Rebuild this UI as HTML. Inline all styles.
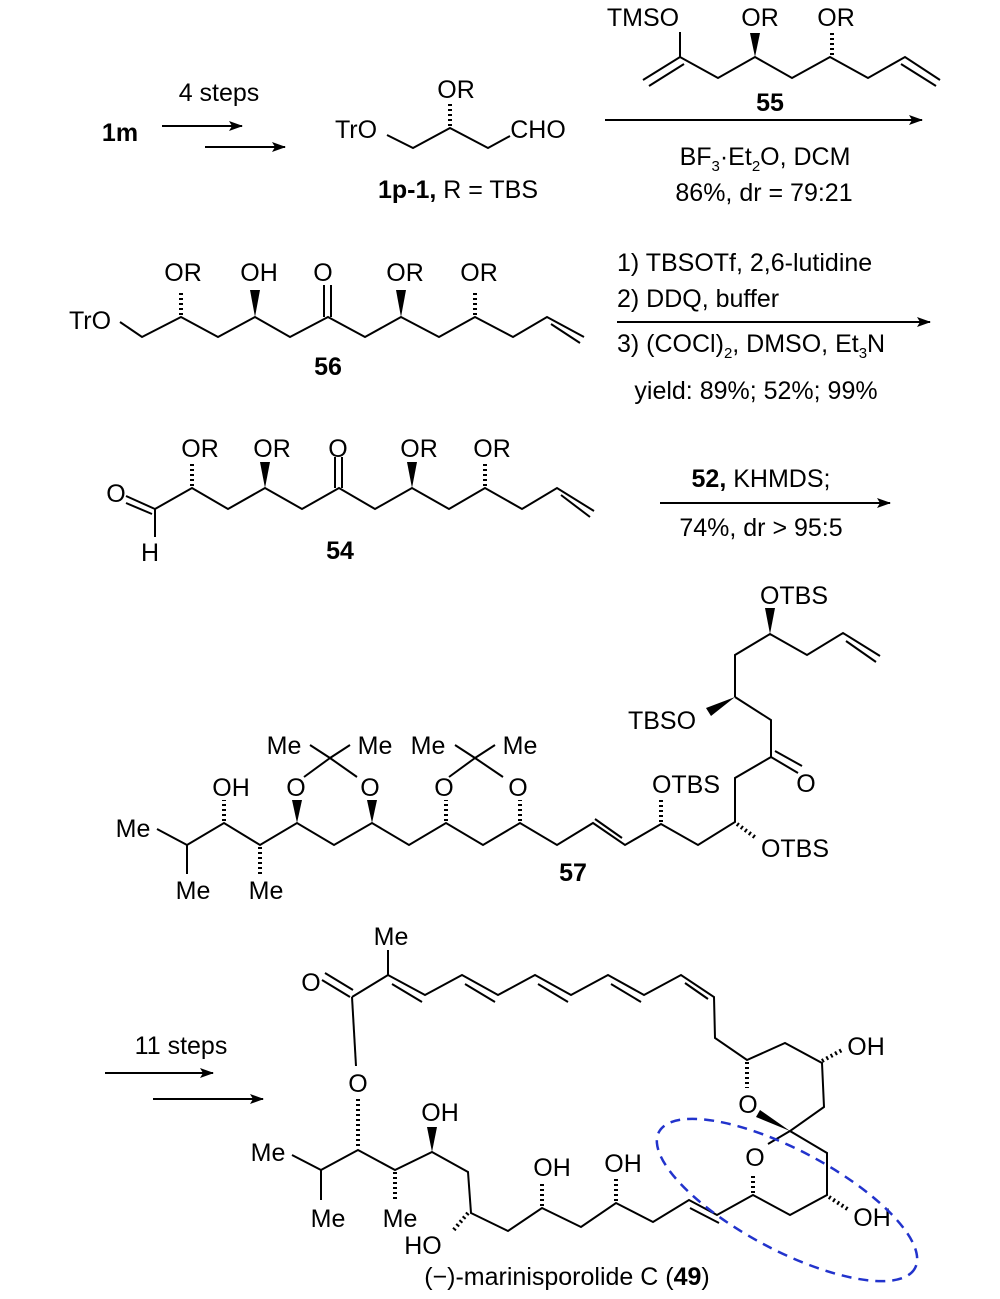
<!DOCTYPE html>
<html><head><meta charset="utf-8"><style>
html,body{margin:0;padding:0;background:#fff;}
svg{display:block;}
text{font-family:"Liberation Sans",Arial,sans-serif;font-size:25px;fill:#000;text-anchor:middle;}
.b{font-weight:bold;}
.l{text-anchor:start;}
line,polyline{stroke:#000;stroke-width:2;fill:none;}
.h{stroke-dasharray:2,3;stroke-width:4;}
</style></head><body>
<svg width="1000" height="1299" viewBox="0 0 1000 1299" xmlns="http://www.w3.org/2000/svg">
<defs><marker id="ar" markerWidth="14" markerHeight="10" refX="13" refY="5" orient="auto" markerUnits="userSpaceOnUse"><path d="M0,0 L14,5 L0,10 L3,5z" fill="#000"/></marker></defs>

<!-- Row 1 -->
<text x="120" y="141" class="b">1m</text>
<text x="219" y="101">4 steps</text>
<line x1="162" y1="126" x2="242" y2="126" marker-end="url(#ar)"/>
<line x1="205" y1="147" x2="285" y2="147" marker-end="url(#ar)"/>

<text x="356" y="138">TrO</text>
<polyline points="387,135 413,148 450,128 488,148 510,136"/>
<line class="h" x1="450" y1="126" x2="450" y2="103"/>
<text x="456" y="98">OR</text>
<text x="538" y="138">CHO</text>
<text x="458" y="198"><tspan class="b">1p-1,</tspan> R = TBS</text>

<line x1="605" y1="120" x2="922" y2="120" marker-end="url(#ar)"/>
<text x="643" y="26">TMSO</text>
<line x1="680" y1="32" x2="680" y2="57"/>
<polyline points="643,80 680,57 718,78 755,57 792,78 830,57 868,78 905,57 940,80"/>
<line x1="649" y1="86" x2="684" y2="64"/>
<line x1="901" y1="64" x2="936" y2="86"/>
<polygon points="755,57 750,33 760,33" fill="#000"/>
<line class="h" x1="832" y1="55" x2="832" y2="32"/>
<text x="760" y="26">OR</text>
<text x="836" y="26">OR</text>
<text x="770" y="111" class="b">55</text>
<text x="765" y="165">BF<tspan font-size="15" dy="6">3</tspan><tspan dy="-6">·Et</tspan><tspan font-size="15" dy="6">2</tspan><tspan dy="-6">O, DCM</tspan></text>
<text x="764" y="201">86%, dr = 79:21</text>

<!-- Row 2 : 56 -->
<text x="90" y="329">TrO</text>
<polyline points="120,322 142,337 181,317 218,337 255,317 290,337 328,317 365,337 401,317 439,337 475,317 513,337 547,317 584,337"/>
<line x1="551" y1="324" x2="580" y2="343"/>
<line class="h" x1="181" y1="315" x2="181" y2="290"/>
<polygon points="255,317 250,290 260,290" fill="#000"/>
<line x1="324" y1="317" x2="324" y2="285"/><line x1="331" y1="317" x2="331" y2="285"/>
<polygon points="401,317 396,290 406,290" fill="#000"/>
<line class="h" x1="475" y1="315" x2="475" y2="290"/>
<text x="183" y="281">OR</text><text x="259" y="281">OH</text><text x="323" y="281">O</text><text x="405" y="281">OR</text><text x="479" y="281">OR</text>
<text x="328" y="375" class="b">56</text>
<line x1="617" y1="322" x2="930" y2="322" marker-end="url(#ar)"/>
<text class="l" x="617" y="271">1) TBSOTf, 2,6-lutidine</text>
<text class="l" x="617" y="307">2)  DDQ, buffer</text>
<text class="l" x="617" y="352">3) (COCl)<tspan font-size="15" dy="6">2</tspan><tspan dy="-6">, DMSO, Et</tspan><tspan font-size="15" dy="6">3</tspan><tspan dy="-6">N</tspan></text>
<text x="756" y="399">yield: 89%; 52%; 99%</text>

<!-- Row 3 : 54 -->
<text x="116" y="502">O</text>
<line x1="126" y1="496" x2="155" y2="509"/><line x1="126" y1="503" x2="152" y2="514"/>
<line x1="155" y1="509" x2="155" y2="537"/>
<text x="150" y="561">H</text>
<polyline points="155,509 192,488 228,509 265,488 302,509 339,488 375,509 412,488 449,509 485,488 522,509 557,488 594,511"/>
<line x1="561" y1="495" x2="590" y2="517"/>
<line class="h" x1="192" y1="486" x2="192" y2="462"/>
<polygon points="265,488 260,462 270,462" fill="#000"/>
<line x1="335" y1="488" x2="335" y2="457"/><line x1="342" y1="488" x2="342" y2="457"/>
<polygon points="412,488 407,462 417,462" fill="#000"/>
<line class="h" x1="485" y1="486" x2="485" y2="462"/>
<text x="200" y="457">OR</text><text x="272" y="457">OR</text><text x="338" y="457">O</text><text x="419" y="457">OR</text><text x="492" y="457">OR</text>
<text x="340" y="559" class="b">54</text>
<line x1="660" y1="503" x2="890" y2="503" marker-end="url(#ar)"/>
<text x="761" y="487"><tspan class="b">52,</tspan> KHMDS;</text>
<text x="761" y="536">74%, dr &gt; 95:5</text>

<!-- 57 -->
<text x="794" y="604">OTBS</text>
<polygon points="770,634 765,608 775,608" fill="#000"/>
<polyline points="735,697 735,655 770,634 807,655 843,633 880,656"/>
<line x1="846" y1="641" x2="876" y2="662"/>
<text x="662" y="729">TBSO</text>
<polygon points="735,697 706,708 711,716" fill="#000"/>
<polyline points="735,697 771,720 771,757 735,778 735,822 698,845 661,824 625,845 593,823 557,845 520,823 483,845 446,823 409,845 372,823 334,845 297,823 260,845 224,823 187,845 157,829"/>
<line x1="771" y1="757" x2="798" y2="773"/><line x1="775" y1="751" x2="802" y2="766"/>
<text x="806" y="792">O</text>
<line class="h" x1="737" y1="824" x2="756" y2="838"/>
<text x="795" y="857">OTBS</text>
<line class="h" x1="661" y1="822" x2="661" y2="800"/>
<text x="686" y="793">OTBS</text>
<line x1="622" y1="838" x2="595" y2="819"/>
<line class="h" x1="520" y1="821" x2="520" y2="800"/>
<line class="h" x1="446" y1="821" x2="446" y2="800"/>
<polygon points="372,823 367,800 377,800" fill="#000"/>
<polygon points="297,823 292,800 302,800" fill="#000"/>
<text x="296" y="796">O</text><text x="370" y="796">O</text><text x="444" y="796">O</text><text x="518" y="796">O</text>
<line x1="304" y1="777" x2="330" y2="758"/><line x1="357" y1="777" x2="330" y2="758"/>
<line x1="310" y1="745" x2="330" y2="758"/><line x1="350" y1="745" x2="330" y2="758"/>
<line x1="449" y1="777" x2="475" y2="758"/><line x1="503" y1="777" x2="475" y2="758"/>
<line x1="455" y1="745" x2="475" y2="758"/><line x1="495" y1="745" x2="475" y2="758"/>
<text x="284" y="754">Me</text><text x="375" y="754">Me</text><text x="428" y="754">Me</text><text x="520" y="754">Me</text>
<line class="h" x1="224" y1="821" x2="224" y2="800"/>
<text x="231" y="796">OH</text>
<text x="133" y="837">Me</text>
<line x1="187" y1="845" x2="187" y2="874"/>
<text x="193" y="899">Me</text>
<line class="h" x1="260" y1="847" x2="260" y2="874"/>
<text x="266" y="899">Me</text>
<text x="573" y="881" class="b">57</text>

<!-- Final -->
<text x="181" y="1054">11 steps</text>
<line x1="105" y1="1073" x2="213" y2="1073" marker-end="url(#ar)"/>
<line x1="153" y1="1099" x2="263" y2="1099" marker-end="url(#ar)"/>

<text x="391" y="945">Me</text>
<line x1="388" y1="950" x2="388" y2="975"/>
<text x="311" y="991">O</text>
<line x1="322" y1="980" x2="350" y2="997"/><line x1="325" y1="973" x2="353" y2="990"/>
<polyline points="352,997 388,975 425,995 462,975 498,995 535,975 571,995 608,975 644,995 681,975 714,997 715,1038 747,1060 785,1043 822,1063 824,1107 790,1131 827,1153 827,1195 790,1215 753,1195 717,1215 689,1200 653,1222 616,1203 581,1227 542,1208 508,1231 471,1213 468,1172 432,1152 395,1170 358,1150 321,1170 292,1155"/>
<line x1="392" y1="984" x2="422" y2="1002"/>
<line x1="465" y1="984" x2="495" y2="1002"/>
<line x1="538" y1="984" x2="568" y2="1002"/>
<line x1="611" y1="984" x2="641" y2="1002"/>
<line x1="685" y1="983" x2="708" y2="999"/>
<line x1="719" y1="1223" x2="690" y2="1208"/>
<line x1="352" y1="997" x2="356" y2="1066"/>
<text x="358" y="1092">O</text>
<line class="h" x1="358" y1="1099" x2="358" y2="1148"/>
<line class="h" x1="822" y1="1061" x2="842" y2="1050"/>
<text x="866" y="1055">OH</text>
<line class="h" x1="747" y1="1062" x2="747" y2="1088"/>
<text x="748" y="1113">O</text>
<polygon points="790,1131 760,1110 756,1117" fill="#000"/>
<line x1="790" y1="1131" x2="768" y2="1144"/>
<text x="755" y="1166">O</text>
<line class="h" x1="753" y1="1193" x2="753" y2="1174"/>
<line class="h" x1="829" y1="1197" x2="849" y2="1210"/>
<text x="872" y="1226">OH</text>
<line class="h" x1="616" y1="1201" x2="616" y2="1178"/>
<text x="623" y="1172">OH</text>
<line class="h" x1="542" y1="1206" x2="542" y2="1182"/>
<text x="552" y="1176">OH</text>
<line class="h" x1="468" y1="1213" x2="452" y2="1232"/>
<text x="423" y="1254">HO</text>
<polygon points="432,1152 427,1127 437,1127" fill="#000"/>
<text x="440" y="1121">OH</text>
<line class="h" x1="395" y1="1172" x2="395" y2="1200"/>
<text x="400" y="1227">Me</text>
<text x="268" y="1161">Me</text>
<line x1="321" y1="1170" x2="321" y2="1200"/>
<text x="328" y="1227">Me</text>
<ellipse cx="787" cy="1200" rx="145" ry="50" transform="rotate(28 787 1200)" fill="none" stroke="#2233cc" stroke-width="2.5" stroke-dasharray="10,7"/>
<text x="567" y="1285">(−)-marinisporolide C (<tspan class="b">49</tspan>)</text>
</svg>
</body></html>
